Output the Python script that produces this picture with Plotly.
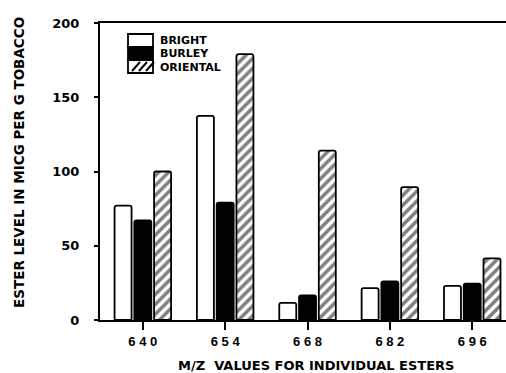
import plotly.graph_objects as go

categories = ["640", "654", "668", "682", "696"]
series_names = ["BRIGHT", "BURLEY", "ORIENTAL"]
bright = [77, 137.5, 11.5, 21.5, 23]
burley = [67, 79, 16.5, 26, 24.5]
oriental = [100, 179, 114, 89.5, 41.5]
y_ticks = [0, 50, 100, 150, 200]
x_title = "M/Z  VALUES FOR INDIVIDUAL ESTERS"
y_title = "ESTER LEVEL IN MICG PER G TOBACCO"

FONT = "Liberation Sans"
WIDE = "DejaVu Sans"
line = dict(color="black", width=1.8)

fig = go.Figure()
fig.add_bar(x=categories, y=bright, name=series_names[0],
            marker=dict(color="white", line=line, cornerradius=2))
fig.add_bar(x=categories, y=burley, name=series_names[1],
            marker=dict(color="black", line=line, cornerradius=2))
fig.add_bar(x=categories, y=oriental, name=series_names[2],
            marker=dict(color="white", line=line, cornerradius=2,
                        pattern=dict(shape="/", fgcolor="black", bgcolor="white",
                                     size=7, solidity=0.5)))

fig.update_layout(
    width=506, height=373,
    margin=dict(l=100, r=0, t=23, b=53),
    paper_bgcolor="white", plot_bgcolor="white",
    barmode="group", bargap=0.28, bargroupgap=0.14,
    showlegend=False,
    font=dict(family=FONT, color="black"),
)
fig.update_xaxes(
    type="category", range=[-0.52, 4.41],
    tickvals=categories, ticktext=[" ".join(c) for c in categories],
    ticks="outside", ticklen=8, tickwidth=2, tickcolor="black",
    showline=True, linecolor="black", linewidth=2, mirror=True,
    showgrid=False, zeroline=False,
    tickfont=dict(size=13, family=FONT, weight="bold"),
)
fig.update_yaxes(
    range=[0, 200], tickvals=y_ticks,
    ticks="outside", ticklen=4, tickwidth=2, tickcolor="black",
    showline=True, linecolor="black", linewidth=2,
    showgrid=False, zeroline=False,
    ticklabelstandoff=12,
    tickfont=dict(size=13, family=WIDE, weight="bold"),
)

# axis titles
fig.add_annotation(text=x_title, xref="paper", yref="paper",
                   x=(316 - 100) / 406, y=-(365 - 320) / 297,
                   xanchor="center", yanchor="middle", showarrow=False,
                   font=dict(size=13, family=WIDE, weight="bold"))
fig.add_annotation(text=y_title, xref="paper", yref="paper",
                   x=-(100 - 19) / 406, y=(320 - 163) / 297, textangle=-90,
                   xanchor="center", yanchor="middle", showarrow=False,
                   font=dict(size=13.5, family=WIDE, weight="bold"))

# legend (stacked key box)
def px(x):
    return (x - 100) / 406

def py(y):
    return (320 - y) / 297

x0, x1 = px(128), px(153)
bands = [(34, 47, "white"), (47, 60, "black"), (60, 73, "white")]
for (ya, yb, col) in bands:
    fig.add_shape(type="rect", xref="paper", yref="paper",
                  x0=x0, x1=x1, y0=py(yb), y1=py(ya),
                  fillcolor=col, line=dict(color="black", width=1.8))
# hatch lines in bottom band
for k in range(3):
    xs = 132 + k * 7
    fig.add_shape(type="line", xref="paper", yref="paper",
                  x0=px(xs), y0=py(71), x1=px(xs + 8), y1=py(62),
                  line=dict(color="black", width=2))
label_y = [41, 54, 67]
for name, yy in zip(series_names, label_y):
    fig.add_annotation(text=name, xref="paper", yref="paper",
                       x=px(158), y=py(yy), xanchor="left", yanchor="middle",
                       showarrow=False,
                       font=dict(size=11, family=WIDE, weight="bold"))

fig.write_html("out.html")
